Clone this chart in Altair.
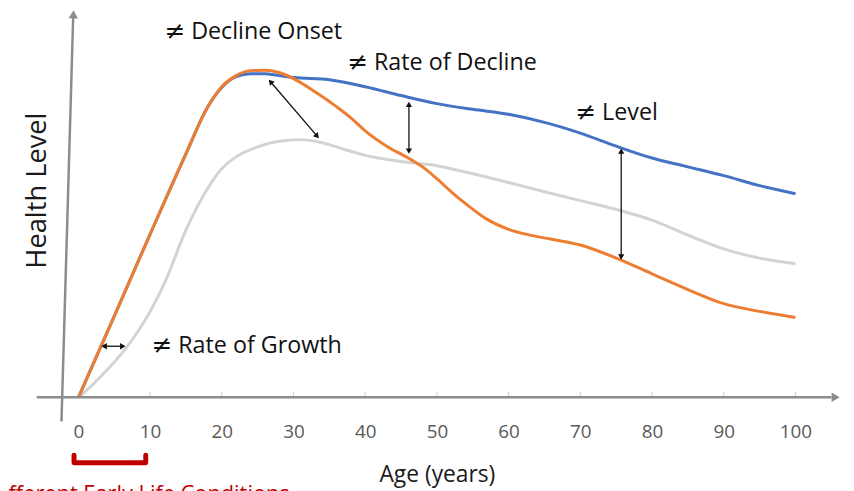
import altair as alt
import pandas as pd

# ---- series data (age in years, health level in arbitrary units) ----
orange_age = [0, 5, 10, 15, 18, 20, 22, 24, 26, 28, 30, 33, 36, 38, 40, 43, 46, 48, 50, 52, 54, 57,
              60, 63, 66, 70, 75, 80, 85, 90, 95, 100]
orange_val = [0, 21.2, 42.6, 63.6, 75.7, 81.1, 84.0, 85.3, 85.4, 84.8, 83.2, 79.8, 75.9, 73.0, 69.6,
              65.6, 62.5, 60.2, 57.1, 53.7, 50.6, 46.5, 43.9, 42.4, 41.3, 39.8, 36.4, 32.3, 28.2, 24.5,
              22.5, 20.9]

blue_age = [0, 5, 10, 15, 18, 20, 22, 24, 26, 28, 30, 35, 40, 45, 50, 55, 60, 65, 70, 75, 80, 85,
            90, 95, 100]
blue_val = [0, 21.2, 42.6, 63.6, 75.7, 80.9, 83.7, 84.5, 84.5, 84.0, 83.5, 82.9, 81.1, 78.8, 76.7,
            75.2, 73.9, 71.8, 69.0, 65.6, 62.5, 60.2, 57.9, 55.3, 53.2]

gray_age = [0, 2, 4, 6, 8, 10, 12, 15, 18, 20, 22, 25, 28, 31, 34, 37, 40, 45, 50, 55, 60, 65, 70,
            75, 80, 85, 90, 95, 100]
gray_val = [0, 3.4, 7.2, 11.4, 16.4, 22.4, 29.8, 43.7, 54.5, 59.7, 62.8, 65.4, 66.9, 67.3, 66.5,
            64.8, 63.2, 61.6, 60.5, 58.4, 56.1, 53.7, 51.4, 49.1, 46.3, 42.4, 38.8, 36.4, 34.9]

tick_values = [0, 10, 20, 30, 40, 50, 60, 70, 80, 90, 100]

# ---- annotation texts ----
ann_sign = ["\u2260", "\u2260", "\u2260", "\u2260"]
ann_text = ["Decline Onset", "Rate of Decline", "Level", "Rate of Growth"]
ann_x = [12.0, 37.5, 69.3, 10.2]
ann_y = [93.5, 85.5, 72.4, 11.6]

# double-headed arrows: (x1, y1, x2, y2)
arrow_x1 = [26.8, 46.1, 75.7, 3.6]
arrow_y1 = [82.4, 76.5, 64.3, 13.4]
arrow_x2 = [33.3, 46.1, 75.7, 6.2]
arrow_y2 = [68.2, 64.3, 36.7, 13.4]
head_angle1 = [319.5, 0, 0, 270]
head_angle2 = [139.5, 180, 180, 90]

XMIN, XMAX = -9.807, 105.94
YMIN, YMAX = 0, 101.03

xs = alt.Scale(domain=[XMIN, XMAX], nice=False, zero=False)
ys = alt.Scale(domain=[YMIN, YMAX], nice=False, zero=False)

FONT = "Open Sans"

x_axis = alt.Axis(values=tick_values, domain=False, ticks=False, tickSize=0, grid=False,
                  labelFont=FONT, labelFontSize=19, labelColor="#595959",
                  labelPadding=40, labelBaseline="alphabetic",
                  title="Age (years)", titleFont=FONT, titleFontSize=23,
                  titleFontWeight="normal", titleColor="#1a1a1a",
                  titleX=433, titleY=85, titleBaseline="alphabetic", titleAlign="center")


def X(field):
    return alt.X(field, type="quantitative", scale=xs, axis=x_axis)


def Y(field):
    return alt.Y(field, type="quantitative", scale=ys, axis=None)


def curve(ages, vals, color):
    df = pd.DataFrame({"age": ages, "val": vals})
    return alt.Chart(df).mark_line(strokeWidth=3, interpolate="monotone", color=color).encode(
        x=X("age"), y=Y("val"))


gray_line = curve(gray_age, gray_val, "#d3d3d3")
blue_line = curve(blue_age, blue_val, "#4472c4")
orange_line = curve(orange_age, orange_val, "#ed7d31")

# axes drawn as arrows
axis_df = pd.DataFrame({"x": [-5.8, -2.35], "y": [0.1, -6.2], "x2": [105.0, -0.72], "y2": [0.1, 99.2]})
axis_lines = alt.Chart(axis_df).mark_rule(color="#8c8c8c", strokeWidth=2.5).encode(
    x=X("x"), y=Y("y"), x2="x2:Q", y2="y2:Q")
axis_heads_df = pd.DataFrame({"x": [105.6, -0.69], "y": [0.1, 100.0], "a": [90, 1.7]})
axis_heads = alt.Chart(axis_heads_df).mark_point(shape="triangle-up", filled=True, size=90,
                                                 color="#8c8c8c", opacity=1).encode(
    x=X("x"), y=Y("y"), angle=alt.Angle("a:Q", scale=None))

ticks_df = pd.DataFrame({"t": tick_values[1:], "y0": [0.0] * 10, "y1": [1.6] * 10})
tick_marks = alt.Chart(ticks_df).mark_rule(color="#d0d0d0", strokeWidth=1).encode(
    x=X("t"), y=Y("y0"), y2="y1:Q")

# y title
ytitle = alt.Chart(pd.DataFrame({"x": [-5.66], "y": [54.0], "t": ["Health Level"]})).mark_text(
    angle=270, font=FONT, fontSize=27.5, color="#1a1a1a", align="center", baseline="middle").encode(
    x=X("x"), y=Y("y"), text="t:N")

# annotation texts: the "not equal" sign and the words
ann_df = pd.DataFrame({"x": ann_x, "y": ann_y, "s": ann_sign, "t": ann_text})
ann_sign_layer = alt.Chart(ann_df).mark_text(
    align="left", baseline="alphabetic", font="DejaVu Sans", fontSize=25, color="#111111").encode(
    x=X("x"), y=Y("y"), text="s:N")
ann_words = alt.Chart(ann_df).mark_text(
    align="left", baseline="alphabetic", font=FONT, fontSize=23.5, color="#111111", dx=27).encode(
    x=X("x"), y=Y("y"), text="t:N")

arrows_df = pd.DataFrame({"x": arrow_x1, "y": arrow_y1, "x2": arrow_x2, "y2": arrow_y2})
arrows = alt.Chart(arrows_df).mark_rule(color="#111111", strokeWidth=1.3).encode(
    x=X("x"), y=Y("y"), x2="x2:Q", y2="y2:Q")
heads_df = pd.DataFrame({"x": arrow_x1 + arrow_x2, "y": arrow_y1 + arrow_y2,
                         "a": head_angle1 + head_angle2})
heads = alt.Chart(heads_df).mark_point(shape="triangle-up", filled=True, size=40, color="#111111",
                                       opacity=1).encode(
    x=X("x"), y=Y("y"), angle=alt.Angle("a:Q", scale=None))

# red bracket under the early-life period
bracket_df = pd.DataFrame({"x": [-0.6, -0.6, 9.4, 9.4], "y": [-15.0, -17.0, -17.0, -15.0],
                           "k": [0, 1, 2, 3]})
bracket = alt.Chart(bracket_df).mark_line(color="#c00000", strokeWidth=5, strokeJoin="round",
                                          strokeCap="round").encode(
    x=X("x"), y=Y("y"), order="k:Q")
red_text = alt.Chart(pd.DataFrame({"x": [-12.7], "y": [-26.9],
                                   "t": ["Different Early Life Conditions"]})).mark_text(
    align="left", baseline="alphabetic", font=FONT, fontSize=22, color="#c00000").encode(
    x=X("x"), y=Y("y"), text="t:N")

chart = alt.layer(gray_line, blue_line, orange_line, tick_marks, axis_lines, axis_heads, ytitle,
                  ann_sign_layer, ann_words, arrows, heads, bracket, red_text).properties(
    width=838, height=391,
    background="white",
    autosize=alt.AutoSizeParams(type="none"),
    padding={"left": 0, "top": 0, "right": 8, "bottom": 100},
).configure_view(strokeWidth=0)

chart.save("out.html", embed_options={"renderer": "svg", "actions": False})
